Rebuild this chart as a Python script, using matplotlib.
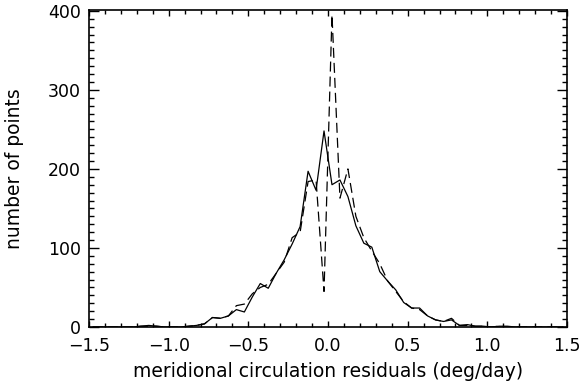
import numpy as np
import matplotlib
matplotlib.use("Agg")
import matplotlib.pyplot as plt
from matplotlib.ticker import MultipleLocator

# bin centres (deg/day)
bin_centers = np.round(np.arange(-1.475, 1.5, 0.05), 3)

# solid curve counts
solid_counts = [
    0, 0, 0, 0, 0, 0,          # -1.475 .. -1.225
    1, 2, 1, 0, 0, 0, 1, 2,    # -1.175 .. -0.825
    4, 12, 11, 14, 22, 19,     # -0.775 .. -0.525
    38, 55, 49, 68, 85, 105,   # -0.475 .. -0.225
    127, 197, 173, 248,        # -0.175 .. -0.025
    180, 186, 165, 128, 106,   # 0.025 .. 0.225
    101, 70, 58, 47, 31,       # 0.275 .. 0.475
    24, 24, 14, 9, 7, 9,       # 0.525 .. 0.775
    2, 3, 1, 1, 0, 1, 1, 0,    # 0.825 .. 1.175
    0, 0, 0, 0, 0, 0,          # 1.225 .. 1.475
]

# dashed curve counts
dashed_counts = [
    0, 0, 0, 0, 0, 0,
    1, 1, 1, 0, 0, 0, 1, 2,
    4, 12, 11, 14, 27, 29,
    42, 50, 54, 68, 82, 113,
    120, 184, 186, 45,
    395, 163, 200, 140, 113,
    96, 80, 58, 45, 32,
    24, 22, 14, 9, 7, 11,
    2, 2, 1, 1, 0, 1, 0, 0,
    0, 0, 0, 0, 0, 0,
]

x_ticks = [-1.5, -1.0, -0.5, 0.0, 0.5, 1.0, 1.5]
x_tick_labels = ["\u22121.5", "\u22121.0", "\u22120.5", "0.0", "0.5", "1.0", "1.5"]
y_ticks = [0, 100, 200, 300, 400]

plt.rcParams['font.family'] = ['DejaVu Sans']

fig = plt.figure(figsize=(5.8, 3.86), dpi=100)
ax = fig.add_axes([89/580, 1 - 327/386, (567-89)/580, (327-10)/386])

ax.plot(bin_centers, solid_counts, color='black', lw=0.9)
ax.plot(bin_centers, dashed_counts, color='black', lw=0.9, linestyle=(0, (8, 4)))

ax.set_xlim(-1.5, 1.5)
ax.set_ylim(0, 401)

ax.set_xticks(x_ticks)
ax.set_xticklabels(x_tick_labels)
ax.set_yticks(y_ticks)
ax.xaxis.set_minor_locator(MultipleLocator(0.1))
ax.yaxis.set_minor_locator(MultipleLocator(10))

for s in ax.spines.values():
    s.set_linewidth(1.2)

ax.tick_params(axis='x', which='both', direction='in', top=True, bottom=True,
               labelsize=12.5, pad=7, width=1)
ax.tick_params(axis='x', which='major', length=4.6)
ax.tick_params(axis='x', which='minor', length=2.6)
ax.tick_params(axis='y', which='both', direction='in', left=True, right=True,
               labelsize=12.5, pad=6, width=1)
ax.tick_params(axis='y', which='major', length=7)
ax.tick_params(axis='y', which='minor', length=3.5)

ax.set_xlabel("meridional circulation residuals (deg/day)", fontsize=13.5)
ax.set_ylabel("number of points", fontsize=13.5)
ax.xaxis.set_label_coords(0.5, -0.139)
ax.xaxis.label.set_verticalalignment('center')
ax.yaxis.set_label_coords(-0.155, 0.5)
ax.yaxis.label.set_verticalalignment('center')

fig.savefig("out.png", dpi=100)
